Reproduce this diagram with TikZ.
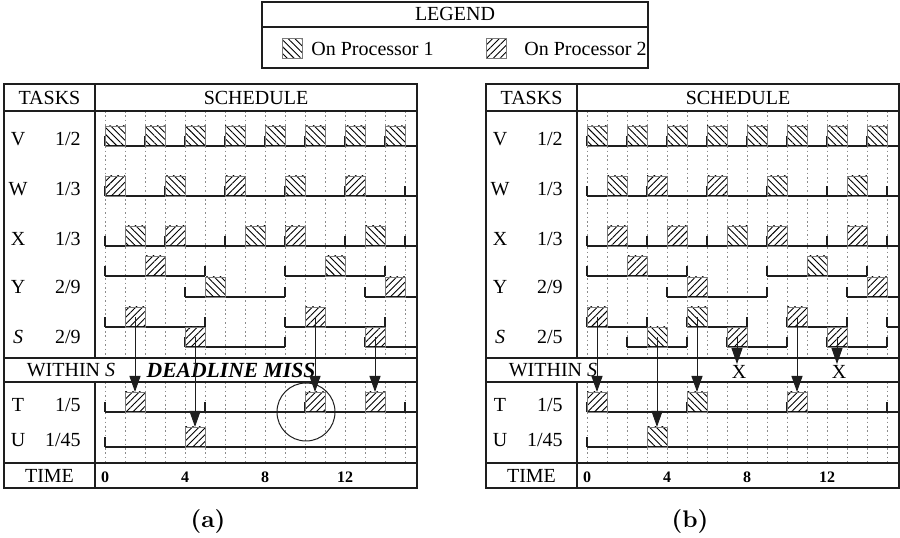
\documentclass[tikz,border=0pt]{standalone}
\usepackage{fontspec}
\newfontfamily\tm{Liberation Serif}
\newfontfamily\capfont{lmroman10-bold.otf}
\usetikzlibrary{arrows.meta, patterns.meta}
\definecolor{edge}{HTML}{1E1E1E}
\definecolor{slotline}{HTML}{7A7A7A}
\definecolor{grid}{HTML}{8C8C8C}
\tikzset{
  cpu/.style={draw=slotline, line width=0.4pt, anchor=south west, inner sep=0pt, outer sep=0pt, minimum width=10pt, minimum height=10pt},
  cpua/.style={cpu, pattern={Lines[angle=-45, distance=2.4pt, line width=0.45pt]}},
  cpub/.style={cpu, pattern={Lines[angle=45, distance=2.4pt, line width=0.45pt]}},
  panelrule/.style={draw=edge, line width=1pt},
  win/.style={draw=edge, line width=1pt},
  relmark/.style={draw=edge, line width=1pt},
  gridline/.style={draw=grid, line width=0.4pt, dash pattern=on 0.8pt off 1.4pt},
  a/.style={-{Triangle[length=8pt, width=5.5pt]}, draw=edge, line width=0.5pt},
  hd/.style={inner sep=0.5pt},
  tname/.style={inner sep=0pt, anchor=base},
  tw/.style={inner sep=0pt, anchor=base east},
  tnum/.style={font=\tm\fontsize{8}{9}\selectfont\bfseries, inner sep=0pt},
  miss/.style={font=\tm\fontsize{10.8}{12}\selectfont\bfseries\itshape, inner sep=0pt},
  capt/.style={font=\capfont\fontsize{12}{14}\selectfont},
}
\newcommand{\release}[2]{\draw[relmark] (#1,#2) -- ++(0,0.5);}
\newcommand{\subwin}[3]{\draw[win] (#1,#3) -- (#2,#3); \release{#1}{#3} \release{#2}{#3}}
% frame, labels, V row and Y windows shared by both panels; #1 prefix, #2 weight of S
\newcommand{\schedframe}[2]{%
  \foreach \t in {0,...,15} {
    \draw[gridline] (\t,-5.55) -- (\t,-17.9);
    \draw[gridline] (\t,-19.1) -- (\t,-23.15);
  }
  \draw[panelrule] (-5.05,-4.2) rectangle (15.6,-24.4);
  \draw[panelrule] (-5.05,-5.55) -- (15.6,-5.55);
  \draw[panelrule] (-5.05,-17.9) -- (15.6,-17.9);
  \draw[panelrule] (-5.05,-19.1) -- (15.6,-19.1);
  \draw[panelrule] (-5.05,-23.15) -- (15.6,-23.15);
  \draw[panelrule] (-0.5,-4.2) -- (-0.5,-17.9);
  \draw[panelrule] (-0.5,-19.1) -- (-0.5,-24.4);
  \node[hd] (#1-tasks)  at (-2.775,-4.9) {TASKS};
  \node[hd] (#1-sched)  at (7.55,-4.9) {SCHEDULE};
  \node[hd] (#1-time)   at (-2.775,-23.8) {TIME};
  \node[hd] (#1-within) at (-1.7,-18.5) {WITHIN \textit{S}};
  \foreach \t in {0,4,8,12} {\node[tnum] (#1-n\t) at (\t,-23.85) {\t};}
  \node[tname] (#1-lv) at (-4.35,-7.3)   {V};        \node[tw] (#1-fv) at (-1.2,-7.3)   {1/2};
  \node[tname] (#1-lw) at (-4.35,-9.8)   {W};        \node[tw] (#1-fw) at (-1.2,-9.8)   {1/3};
  \node[tname] (#1-lx) at (-4.35,-12.3)  {X};        \node[tw] (#1-fx) at (-1.2,-12.3)  {1/3};
  \node[tname] (#1-ly) at (-4.35,-14.68) {Y};        \node[tw] (#1-fy) at (-1.2,-14.68) {2/9};
  \node[tname] (#1-ls) at (-4.35,-17.18) {\textit{S}}; \node[tw] (#1-fs) at (-1.2,-17.18) {#2};
  \node[tname] (#1-lt) at (-4.35,-20.6)  {T};        \node[tw] (#1-ft) at (-1.2,-20.6)  {1/5};
  \node[tname] (#1-lu) at (-4.35,-22.35) {U};        \node[tw] (#1-fu) at (-1.2,-22.35) {1/45};
  % V: period 2
  \draw[win] (0,-7.3) -- (15.6,-7.3);
  \foreach \t in {0,2,...,14} {\release{\t}{-7.3} \node[cpua] (#1-v\t) at (\t,-7.3) {};}
  % W, X, T, U base lines
  \draw[win] (0,-9.8) -- (15.6,-9.8);
  \draw[win] (0,-12.3) -- (15.6,-12.3);
  \foreach \t in {0,3,...,15} {\release{\t}{-9.8} \release{\t}{-12.3}}
  \draw[win] (0,-20.6) -- (15.6,-20.6);
  \foreach \t in {0,5,10,15} {\release{\t}{-20.6}}
  \draw[win] (0,-22.35) -- (15.6,-22.35);
  \release{0}{-22.35}
  % Y windows
  \subwin{0}{5}{-13.8} \subwin{4}{9}{-14.85} \subwin{9}{14}{-13.8}
  \draw[win] (13,-14.85) -- (15.6,-14.85); \release{13}{-14.85}
}

\begin{document}
\begin{tikzpicture}[x=10pt, y=10pt, font=\tm]
\useasboundingbox (0,0) rectangle (45,-26.9);

% legend
\draw[panelrule] (13.1,-0.1) rectangle (32.4,-3.4);
\draw[panelrule] (13.1,-1.35) -- (32.4,-1.35);
\node[hd] (legend) at (22.75,-0.72) {LEGEND};
\node[cpua, anchor=center] (key1) at (14.6,-2.43) {};
\node[hd, anchor=west] (key1txt) at (15.5,-2.43) {On Processor 1};
\node[cpub, anchor=center] (key2) at (24.8,-2.43) {};
\node[hd, anchor=west] (key2txt) at (26.15,-2.43) {On Processor 2};

% panel (a)
\begin{scope}[xshift=52.5pt]
\schedframe{a}{2/9}
\foreach \t/\p in {0/cpub,3/cpua,6/cpub,9/cpua,12/cpub} {\node[\p] (a-w\t) at (\t,-9.8) {};}
\foreach \t/\p in {1/cpua,3/cpub,7/cpua,9/cpub,13/cpua} {\node[\p] (a-x\t) at (\t,-12.3) {};}
\node[cpub] (a-y2)  at (2,-13.8)   {};
\node[cpua] (a-y5)  at (5,-14.85)  {};
\node[cpua] (a-y11) at (11,-13.8)  {};
\node[cpub] (a-y14) at (14,-14.85) {};
% S windows
\subwin{0}{5}{-16.35} \subwin{4}{9}{-17.35} \subwin{9}{14}{-16.35}
\draw[win] (13,-17.35) -- (15.6,-17.35); \release{13}{-17.35}
\node[cpub] (a-s1)  at (1,-16.35)  {};
\node[cpub] (a-s4)  at (4,-17.35)  {};
\node[cpub] (a-s10) at (10,-16.35) {};
\node[cpub] (a-s13) at (13,-17.35) {};
\node[cpub] (a-t1)  at (1,-20.6)   {};
\node[cpub] (a-t10) at (10,-20.6)  {};
\node[cpub] (a-t13) at (13,-20.6)  {};
\node[cpub] (a-u4)  at (4,-22.35)  {};
\node[miss] (a-dl) at (6.3,-18.5) {DEADLINE MISS};
\node[draw=edge, circle, line width=0.5pt, inner sep=0pt, minimum size=29pt] (a-ring) at (10.05,-20.6) {};
\draw[a] (a-s1.center)  -- (a-t1.north);
\draw[a] (a-s4.center)  -- (a-u4.north);
\draw[a] (a-s10.center) -- (a-t10.north);
\draw[a] (a-s13.center) -- (a-t13.north);
\end{scope}
\node[capt] (capa) at (10.4,-26.05) {(a)};

% panel (b)
\begin{scope}[xshift=293.5pt]
\schedframe{b}{2/5}
\foreach \t/\p in {1/cpua,3/cpub,6/cpub,9/cpua,13/cpua} {\node[\p] (b-w\t) at (\t,-9.8) {};}
\foreach \t/\p in {1/cpub,4/cpub,7/cpua,9/cpub,13/cpub} {\node[\p] (b-x\t) at (\t,-12.3) {};}
\node[cpub] (b-y2)  at (2,-13.8)   {};
\node[cpub] (b-y5)  at (5,-14.85)  {};
\node[cpua] (b-y11) at (11,-13.8)  {};
\node[cpub] (b-y14) at (14,-14.85) {};
% S windows
\subwin{0}{3}{-16.35} \subwin{2}{5}{-17.35} \subwin{5}{8}{-16.35}
\subwin{7}{10}{-17.35} \subwin{10}{13}{-16.35} \subwin{12}{15}{-17.35}
\draw[win] (15,-16.35) -- (15.6,-16.35); \release{15}{-16.35}
\node[cpub] (b-s0)  at (0,-16.35)  {};
\node[cpua] (b-s3)  at (3,-17.35)  {};
\node[cpua] (b-s5)  at (5,-16.35)  {};
\node[cpub] (b-s7)  at (7,-17.35)  {};
\node[cpub] (b-s10) at (10,-16.35) {};
\node[cpub] (b-s12) at (12,-17.35) {};
\node[cpub] (b-t0)  at (0,-20.6)   {};
\node[cpua] (b-t5)  at (5,-20.6)   {};
\node[cpub] (b-t10) at (10,-20.6)  {};
\node[cpua] (b-u3)  at (3,-22.35)  {};
\node[hd] (b-miss1) at (7.6,-18.6)  {X};
\node[hd] (b-miss2) at (12.6,-18.6) {X};
\draw[a] (b-s0.center)  -- (b-t0.north);
\draw[a] (b-s3.center)  -- (b-u3.north);
\draw[a] (b-s5.center)  -- (b-t5.north);
\draw[a] (b-s7.center)  -- (b-s7.center |- b-miss1.north);
\draw[a] (b-s10.center) -- (b-t10.north);
\draw[a] (b-s12.center) -- (b-s12.center |- b-miss2.north);
\end{scope}
\node[capt] (capb) at (34.5,-26.05) {(b)};
\end{tikzpicture}
\end{document}
